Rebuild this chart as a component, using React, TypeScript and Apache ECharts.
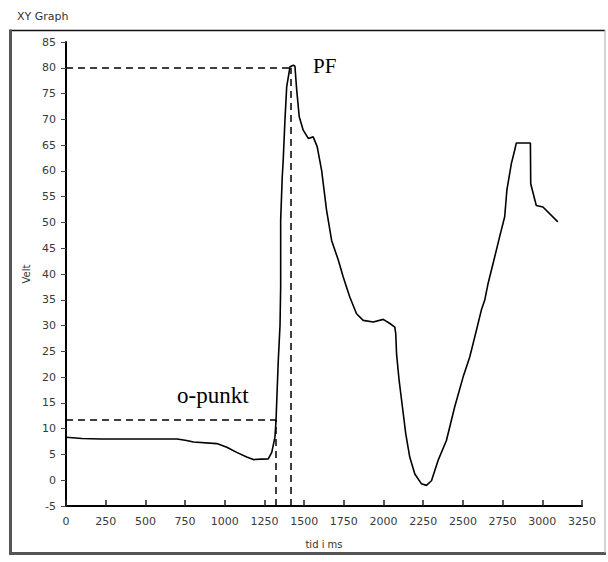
import React, { useEffect, useRef } from "react";
import * as echarts from "echarts";

// time (ms) and velocity readings of the traced curve
const timeMs: number[] = [
  0, 100, 216, 500, 700, 760, 803, 950, 1013, 1075, 1138, 1180, 1230, 1274, 1296, 1316, 1323, 1326,
  1337, 1348, 1352, 1352, 1362, 1368, 1379, 1390, 1411, 1432, 1442, 1453, 1469, 1494, 1526, 1557,
  1582, 1610, 1641, 1673, 1715, 1746, 1788, 1830, 1872, 1935, 1998, 2040, 2071, 2077, 2082, 2098,
  2119, 2140, 2165, 2197, 2239, 2270, 2302, 2343, 2396, 2448, 2501, 2543, 2564, 2585, 2616, 2637,
  2658, 2700, 2731, 2763, 2777, 2805, 2826, 2836, 2925, 2927, 2962, 3004, 3098,
];
const velocity: number[] = [
  8.35, 8.1, 8.0, 8.0, 8.0, 7.7, 7.4, 7.1, 6.4, 5.4, 4.5, 4.0, 4.1, 4.15, 5.4, 8.35, 11.6, 14.2,
  23.2, 30.0, 37.5, 50.4, 58.8, 62.0, 69.8, 76.3, 80.2, 80.5, 80.3, 75.7, 70.5, 67.9, 66.3, 66.6,
  64.7, 60.1, 52.4, 46.5, 42.7, 39.4, 35.5, 32.3, 31.0, 30.7, 31.2, 30.4, 29.7, 28.4, 24.5, 19.4,
  14.2, 9.0, 4.5, 1.2, -0.7, -1.0, -0.1, 3.8, 7.7, 14.2, 20.0, 23.9, 26.5, 29.1, 33.0, 34.9,
  38.1, 43.3, 47.2, 51.1, 56.3, 61.4, 64.0, 65.4, 65.4, 57.5, 53.3, 53.0, 50.1,
];

// reference markers: o-punkt and PF
const oPunkt = { t: 1323, v: 11.7 };
const peakPF = { t: 1418, v: 80 };

const xTicks = { min: 0, max: 3250, interval: 250 };
const yTicks = { min: -5, max: 85, interval: 5 };

export default function App() {
  const ref = useRef<HTMLDivElement>(null);
  useEffect(() => {
    if (!ref.current) return;
    const chart = echarts.init(ref.current, null, { renderer: "svg" });
    const data = timeMs.map((t, i) => [t, velocity[i]]);
    const dashStyle = { color: "#000", width: 1.5, type: [7, 5] as any };
    const labelStyle = {
      color: "#3a3a3a",
      fontSize: 11,
      fontFamily: "DejaVu Sans",
      formatter: (v: number) => String(v),
    };
    chart.setOption({
      animation: false,
      backgroundColor: "#fff",
      grid: { left: 66, right: 26, top: 42, bottom: 56 },
      xAxis: {
        type: "value",
        min: xTicks.min,
        max: xTicks.max,
        interval: xTicks.interval,
        name: "tid i ms",
        nameLocation: "middle",
        nameGap: 33,
        nameTextStyle: { color: "#333", fontSize: 10, fontFamily: "DejaVu Sans" },
        axisLine: { onZero: false, lineStyle: { color: "#000", width: 2 } },
        axisTick: { inside: true, length: 6, lineStyle: { color: "#222", width: 1.5 } },
        axisLabel: { ...labelStyle, margin: 10 },
        splitLine: { show: false },
      },
      yAxis: {
        type: "value",
        min: yTicks.min,
        max: yTicks.max,
        interval: yTicks.interval,
        name: "Velt",
        nameLocation: "middle",
        nameGap: 33,
        nameRotate: 90,
        nameTextStyle: { color: "#333", fontSize: 10, fontFamily: "DejaVu Sans" },
        axisLine: { onZero: false, lineStyle: { color: "#000", width: 2 } },
        axisTick: { length: 5, lineStyle: { color: "#444", width: 1 } },
        axisLabel: { ...labelStyle, margin: 10 },
        splitLine: { show: false },
      },
      series: [
        {
          type: "line",
          data,
          showSymbol: false,
          symbol: "none",
          lineStyle: { color: "#000", width: 1.6 },
          markLine: {
            silent: true,
            symbol: "none",
            label: { show: false },
            lineStyle: dashStyle,
            data: [
              [{ coord: [xTicks.min, peakPF.v] }, { coord: [peakPF.t, peakPF.v] }],
              [{ coord: [peakPF.t, yTicks.min] }, { coord: [peakPF.t, peakPF.v] }],
              [{ coord: [xTicks.min, oPunkt.v] }, { coord: [oPunkt.t, oPunkt.v] }],
              [{ coord: [oPunkt.t, yTicks.min] }, { coord: [oPunkt.t, oPunkt.v] }],
            ],
          },
        },
      ],
      graphic: [
        {
          type: "text",
          left: 17,
          top: 11,
          style: { text: "XY Graph", fill: "#333", font: "11px 'DejaVu Sans'" },
        },
        { type: "line", shape: { x1: 10, y1: 30.5, x2: 605, y2: 30.5 }, style: { stroke: "#111", lineWidth: 1.5 } },
        { type: "line", shape: { x1: 10.5, y1: 29.5, x2: 10.5, y2: 555 }, style: { stroke: "#555", lineWidth: 3 } },
        { type: "line", shape: { x1: 9, y1: 553.5, x2: 606, y2: 553.5 }, style: { stroke: "#555", lineWidth: 3 } },
        { type: "line", shape: { x1: 605, y1: 30, x2: 605, y2: 553 }, style: { stroke: "#aaa", lineWidth: 1 } },
        {
          type: "text",
          x: 313,
          y: 55,
          style: { text: "PF", fill: "#000", font: "21px 'Liberation Serif'" },
        },
        {
          type: "text",
          x: 177,
          y: 384,
          style: { text: "o-punkt", fill: "#000", font: "23px 'Liberation Serif'" },
        },
      ],
    });
    return () => chart.dispose();
  }, []);
  return (
    <div
      ref={ref}
      style={{ position: "fixed", left: 0, top: 0, width: 608, height: 562, background: "#fff" }}
    />
  );
}
